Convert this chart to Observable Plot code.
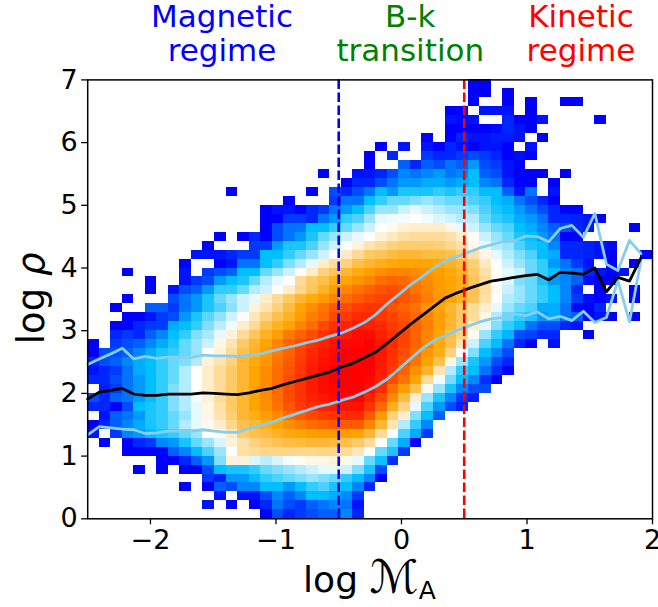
<!DOCTYPE html>
<html>
<head>
<meta charset="utf-8">
<script src="https://cdn.jsdelivr.net/npm/d3@7"></script>
<script src="https://cdn.jsdelivr.net/npm/@observablehq/plot@0.6"></script>
<style>html,body{margin:0;padding:0;background:#fff}svg{display:block}</style>
</head>
<body>
<div id="chart"></div>
<script>
const _ = null;
// colour level per histogram cell, one row per log-rho bin (bottom first): [first column, levels...]
const histRows = [
[15,0,2,1,1.5,2,2.5,2.5,3.5,1],
[10,.5,_,0,_,0,1,3,2,1.5,2.5,3,3.5,3,.5],
[11,.5,_,.5,.5,2,3.5,2.5,3.5,5,5,4.5,3.5,1.5],
[8,0,_,0,2.5,2,3.5,3.5,5,5,4,5,6,6.5,5.5,5,3.5,1],
[10,1.5,.8,4,4,5,6,6.5,7,7.5,8,7.5,7,6,5,3.5,0],
[4,0,_,0,_,0,0,2,5,5.5,5.5,6,7,7.5,8,8.5,9,9.5,9.5,9,7.5,5.5,2],
[6,0,0,1,2.5,4,7.5,10.7,10.7,9.3,8.7,9.3,9.8,10.2,10.5,10.5,10.7,10.4,9.5,7,5.2,1.2],
[3,0,0,0,0,2.5,3.5,5,6.5,8,10,11.8,12,12.3,12.3,12.3,12.2,12.2,12.3,12.3,12,11.3,10,7,5.5,1.5],
[1,0,_,0,1,1.5,3.5,4,5.5,7,8,9.2,10.7,11.7,12.5,13,13.4,13.7,13.8,14,14,13.8,13.5,13,12,10.2,7,4.5,0],
[0,.5,_,1.5,3.5,4,5,5.5,6,7,8,10,10.3,11,13,13.5,13.8,14.3,14.7,15,15.2,15.3,15.3,15.2,15,14,12,10,6.5,4.5,1.5],
[0,0,1,2.5,3.5,4.5,5.5,6,7,8.5,9.5,10.3,11,12.3,13.5,14,14.5,15,15.7,16.2,16.7,17,17.3,17.3,17.2,16,14,11.5,8.5,6,3.5],
[1,.5,2.5,3,4,5.5,6,7,8,9.5,10.5,11.5,12.7,14,14.5,15.2,15.8,16.8,17.3,17.8,18.2,18.5,18.7,18.8,17.3,15.3,12.5,11,7.5,5,2.5],
[0,1,1,0,2,5,5.5,6,7.5,8.5,9.5,10.5,11.7,13,14,15,15.7,16.5,17.5,18.2,18.7,19,19.2,19.5,19.5,18.5,16.8,14.5,12.5,9.5,6.5,4,2,.8],
[0,2,1,2.5,3,4,5,6,7.5,8.5,9.8,10.7,12,13,14,15,15.8,16.7,17.7,18.5,19,19.3,19.7,19.8,20,19,17.8,15.8,13.8,11,8,5.5,3.5,1.5,.8],
[1,.8,1.5,3,4,5,6,7.5,8.5,10,11,12,13,14,15,15.8,16.8,17.7,18.5,19.2,19.7,19.8,20,20,19.7,18.7,16.7,15.2,13.5,10.3,8,5.5,3.5,2,2],
[0,1,1,2,3,4,5,6,7,8.5,10,11,12,13,14,15,15.8,16.7,17.7,18.5,19.2,19.7,20,20,20,19.8,18.9,17.7,16.5,15,12,9.7,7.3,5,3.5,1.2,0],
[0,.5,1,1.5,3,4.5,5,6,7,8.5,10,11,12,13,14,15,15.8,16.7,17.5,18.3,19.2,19.7,20,20,20,20,19.2,18.2,17,15.7,14.2,11.5,8.5,6,5,3,1.2,0],
[0,1,2,2.5,3.5,4.5,5,6,7,7.5,8.5,10.7,11.5,12.5,14,14.7,15.5,16.5,17.3,18.2,19,19.5,19.8,20,20,20,19.2,18.5,17.5,16.5,15,13.5,10.5,8,5.5,4,2,1],
[0,0,2,2,2.5,3.5,4.5,5.5,6,7,8,10,10.7,12,13.5,14.3,15.2,16.3,17,18,18.8,19.3,19.7,20,20,20,19.4,18.5,17.7,16.7,15.5,14.5,12.5,10,7.5,5,3.5,2],
[0,0,_,1.5,2,2.5,3.5,4.5,5.5,7,8,9,10.5,11.5,13,14,15,16,17,17.7,18.5,19,19.5,19.8,19.8,20,19.4,18.7,18,17,16,14.8,13.5,11.5,9,6.5,5,3,1,0,_,.5],
[2,1,1.5,1,2.5,3.5,5,6,7.5,8.3,9.5,10.7,12,13.2,14.3,15.2,16.3,17,17.7,18.5,19,19.3,19.7,19.7,19,18.5,18,17,16,15,13.7,12.5,10.2,8,6,4.8,2,1.7,1,1,_,_,0],
[2,0,0,1,1.5,1.5,4.5,5,6,7.5,8.7,9.7,11,12,13.5,14.3,15,16,16.7,17.8,18.5,19,19.3,19,18.8,18.2,17.8,17,16.2,15.2,14,12.8,11,9.5,7.5,6,5,3,2,2,1,.5],
[3,0,0,.5,1.5,2,4,5.5,6.8,7.8,9,10.1,11.3,12.5,13.5,14.3,15.2,16.2,16.7,17.8,18.3,18.8,18.8,18.3,18,17.5,16.8,16,15.2,14.2,13,12,10.5,8.5,7,6,5.5,4,4.5,3,2.5,0,.5,0,_,0],
[2,0,_,_,2.5,2.5,1.5,3,4,5.5,6.5,7.7,9,10.7,11.5,12.5,13.7,15,15.7,16.5,17.3,17.7,18.2,18.5,18.3,17.5,17,16.5,15.5,15,14,13,12,11,9.5,8,7,6.5,4.5,4.5,3,.2,0,1],
[3,0,_,_,_,2,3,4,5.5,7,8,9,9.5,11,12,13,14,14.7,15.3,16,16.7,17.2,17.7,18,18,17.5,17,16.2,15.5,15,14.3,13.3,11.8,10,8.5,8,7,6,5,3.5,1.5,.3,0,.5,_,0],
[5,0,_,.5,2,2.5,4,6,6,7,8.5,9,10,11,12.2,13.2,14.2,15.2,16,16.5,17,17.5,17.7,17.3,16.5,16,15.3,15,14.5,13.5,12,10.3,9,8,7,6,5,3.5,1,_,0,_,_,0],
[5,0,_,_,.5,1.5,2,4,5,5.5,7,8.5,9.5,10,12,13,13.5,14.5,15,15.5,16,16.7,17,16.8,16.3,15.8,15.3,15,14.5,13.3,12,10,9.3,7.5,7,5.5,4,3.5,2.5,.3,0,0],
[3,0,_,_,_,_,.5,_,1.5,2,2.5,5,5,7,8,9,10,11,12.5,13.3,14,14.7,15.2,15.7,16,16,15.8,15.5,15.2,14.7,14.2,13,11.7,10.2,9.5,9,7,6,5,3.5,3,1,.5,0,.5],
[8,0,_,_,0,.5,3,3,5,6,7.5,8.5,9.5,11,12,12.5,13.5,14,14.5,14.8,15,15,15,14.7,14.3,13.7,12.7,11.2,10,9,8,7,6,4,3,1.5,.5,_,0,_,0],
[9,.5,.5,.5,1,1.5,1.5,5,5,6,7,8,9,10,11.2,12,13,13.3,13.7,14,14,13.8,13.7,13.5,12.7,11.7,10.5,9.5,8.5,7.5,6.5,5,4.5,1,1,.8,.5,0,_,_,0],
[10,0,_,_,_,1.5,1.5,4,5.5,5.5,6.5,8,9,10,10.7,11.5,12,12.5,12.8,12.8,12.8,12.7,12.3,11.7,10.3,9.5,8.5,8,6.5,5.5,5,3.5,1,1,.8,.5,.2],
[11,0,_,0,1,0,2,3,4,5.5,7,8,9,9.5,10,10.8,11.3,11.8,12,12,12,11.7,11,10.2,9,8,7,5.5,5,4,3,0,0],
[15,0,2,3,3,5,5,6,7,8,9,10,10.3,10.8,11,11,11,10.5,9.5,9,8,7,6.5,5,4.5,3.5,2.5,2,1,.5,_,_,_,0],
[15,0,0,1.5,1.5,1,3,4,6,6.5,8,9.5,9.7,9.8,10,9.7,9.3,9,8.5,8.5,7,6,5.5,4.5,4,3,1,1,.8,.5,0],
[15,0,.5,.5,0,1,1.5,3,4,5,6.5,8,8,9,9.5,9,8.5,8,8,7.5,6.5,5.5,5,4,3,2,1,0,0],
[17,0,_,_,_,1.5,3,3,5,6,7,7,7.5,8,7.5,7,7,6.5,6,5,4.5,3,2,1,0],
[12,0,_,_,_,_,_,_,0,_,2,1,2,3,5,4,5.5,5.5,5.5,6,5.5,6,6,5,5,2.5,.5,3,_,.5],
[22,0,1,1,2,3,4,4,4.5,4.5,4,4.5,5,3.5,3,1,0,0,_,0],
[20,0,_,_,.5,.5,1,2,3.5,3,3.5,4,3,3.5,5,2.5,2,.5,0,0,0,_,0],
[24,0,_,_,2.5,1,2.5,2,3,2.5,4,2,1.5,.5,0],
[24,0,_,1,_,_,1.5,1,1,1.5,2,1.5,1,0,.3,0],
[25,0,_,.5,_,.5,0,1,.5,0,.5,.5,0,_,.5],
[29,0,_,0,1,.5,.5,.7,.7,.5,_,0],
[31,0,0,0,0,.3,1,.5,0],
[31,.5,.3,.5,_,_,1,0,0,.5,_,_,_,_,0],
[31,0,0,_,.5,.5,.5,_,0],
[33,0,_,_,0,_,0,_,_,0,0],
[33,0,0,_,0],
[33,0,0]
];
const meanRho = [1.91,2.02,2.05,2.08,1.99,1.97,1.97,1.99,1.99,1.99,2.01,2.0,1.99,1.98,2.01,2.05,2.08,2.14,2.19,2.24,2.29,2.34,2.42,2.48,2.57,2.66,2.80,2.95,3.10,3.24,3.38,3.52,3.60,3.67,3.73,3.79,3.82,3.85,3.88,3.90,3.81,3.93,3.92,3.90,4.0,3.62,3.85,3.79,4.16];
const upperRho = [2.46,2.55,2.63,2.72,2.55,2.59,2.56,2.58,2.58,2.57,2.61,2.60,2.60,2.59,2.61,2.63,2.68,2.72,2.76,2.81,2.85,2.91,2.96,3.04,3.13,3.26,3.43,3.58,3.73,3.86,4.0,4.11,4.18,4.25,4.32,4.37,4.42,4.43,4.51,4.50,4.42,4.63,4.68,4.49,4.87,4.06,3.96,4.44,4.23];
const lowerRho = [1.34,1.47,1.45,1.43,1.42,1.36,1.37,1.40,1.40,1.40,1.42,1.40,1.38,1.38,1.44,1.49,1.54,1.61,1.67,1.73,1.79,1.83,1.89,1.94,2.02,2.11,2.23,2.39,2.55,2.71,2.84,2.92,3.00,3.07,3.14,3.19,3.21,3.27,3.24,3.30,3.19,3.23,3.16,3.31,3.13,3.21,3.80,3.14,4.12];
const xTicks = [-2,-1,0,1,2];
const yTicks = [0,1,2,3,4,5,6,7];
const colorLevels = [0,5,10,15,20];
const colorStops = ["#0000ff","#00bfff","#ffffff","#ffa500","#ff0000"];
const regimes = [
  {x:-1.43, label:"Magnetic\nregime", color:"#0000ff"},
  {x:0.07, label:"B-k\ntransition", color:"#008000"},
  {x:1.43, label:"Kinetic\nregime", color:"#ff0000"}
];
const boundaries = [{x:-0.5,color:"#0000ff"},{x:0.5,color:"#ff0000"}];

const nBins = 49, xMin = -2.5, xMax = 2, yMin = 0, yMax = 7;
const dx = (xMax - xMin) / nBins, dy = (yMax - yMin) / nBins;
const cells = [];
histRows.forEach((row, r) => {
  const start = row[0];
  row.slice(1).forEach((v, i) => {
    if (v === null) return;
    const c = start + i;
    cells.push({x1: xMin + c*dx, x2: xMin + (c+1)*dx, y1: r*dy, y2: (r+1)*dy, v});
  });
});
const edge = i => xMin + i*dx;
const toLine = arr => arr.map((y,i) => ({x: edge(i), y}));

const font = "'DejaVu Sans', sans-serif";
const chart = Plot.plot({
  width: 658, height: 607,
  marginLeft: 87.2, marginRight: 6, marginTop: 79.4, marginBottom: 88.7,
  style: {fontFamily: font, background: "#fff", color: "#000"},
  x: {domain: [xMin, xMax], label: null},
  y: {domain: [yMin, yMax], label: null},
  color: {type: "linear", domain: colorLevels, range: colorStops, interpolate: "rgb", clamp: true},
  marks: [
    Plot.rect(cells, {x1:"x1", x2:"x2", y1:"y1", y2:"y2", fill:"v", inset:0, shapeRendering:"crispEdges"}),
    Plot.line(toLine(upperRho), {x:"x", y:"y", stroke:"#87ceeb", strokeWidth:2.8, curve:"linear"}),
    Plot.line(toLine(lowerRho), {x:"x", y:"y", stroke:"#87ceeb", strokeWidth:2.8, curve:"linear"}),
    Plot.line(toLine(meanRho), {x:"x", y:"y", stroke:"#000", strokeWidth:2.8, curve:"linear"}),
    Plot.ruleX(boundaries, {x:"x", stroke:"color", strokeWidth:2.6, strokeDasharray:"9.5,3.5"}),
    Plot.frame({stroke:"#000", strokeWidth:1.5}),
    Plot.axisX(xTicks, {anchor:"bottom", tickSize:6, tickPadding:5, fontSize:27, label:null, strokeWidth:1.3,
      tickFormat: d => (d<0 ? "\u2212"+(-d) : ""+d)}),
    Plot.axisY(yTicks, {anchor:"left", tickSize:6, tickPadding:4, fontSize:27, label:null, strokeWidth:1.3,
      tickFormat: d => ""+d}),
    Plot.text(regimes, {x:"x", text:"label", fill:"color", frameAnchor:"top", dy:-77, fontSize:31, lineHeight:1.1, lineAnchor:"top", textAnchor:"middle"}),
    Plot.text(["log \u2133A"], {frameAnchor:"bottom", dx:-67, dy:73, fontSize:36, lineAnchor:"bottom", textAnchor:"start"}),
    Plot.text(["log \u03c1"], {frameAnchor:"left", dx:-56, dy:-1, rotate:-90, fontSize:37, textAnchor:"middle"})
  ]
});
document.getElementById("chart").appendChild(chart);
chart.querySelectorAll("text").forEach(t => {
  if (t.textContent === "log \u2133A") {
    t.innerHTML = 'log <tspan font-size="46" dy="1">\u2133</tspan><tspan font-size="25" dy="6">A</tspan>';
  } else if (t.textContent === "log \u03c1") {
    t.innerHTML = 'log <tspan font-style="italic">\u03c1</tspan>';
  }
});
</script>
</body>
</html>
